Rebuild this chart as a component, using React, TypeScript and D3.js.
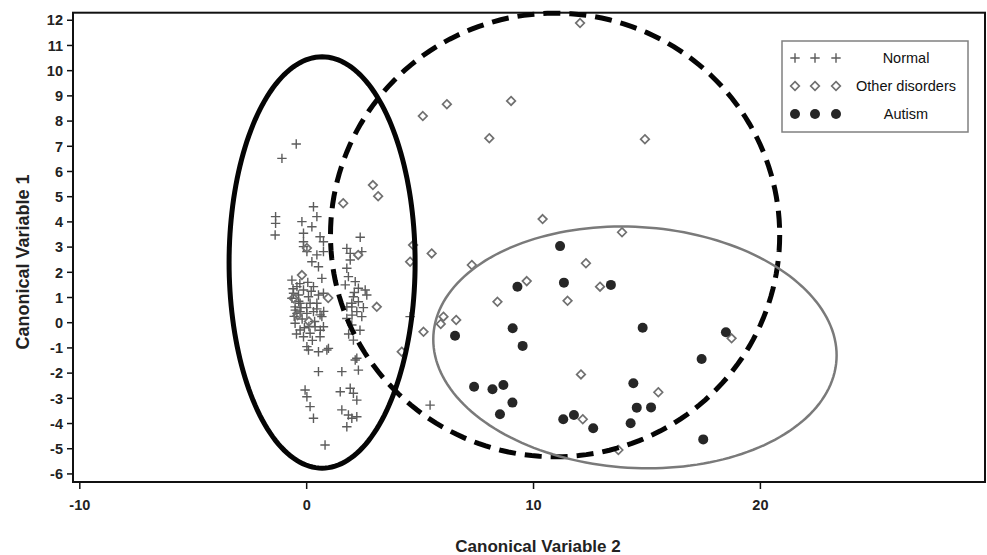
import React from "react";
import * as d3 from "d3";

// ---- data (Canonical Variable 2 = x, Canonical Variable 1 = y) ----
const xTicks = [-10, 0, 10, 20];
const yTicks = d3.range(-6, 13, 1);

const normalPoints: [number, number][] = [
  [-1.09, 6.52], [-0.46, 7.09],
  [-1.37, 4.21], [-1.37, 3.94], [-1.39, 3.48],
  [0.3, 4.6], [0.45, 4.21], [-0.21, 4.01], [0.23, 3.81], [-0.14, 3.55], [0.59, 3.41], [0.74, 3.21],
  [-0.14, 3.21], [-0.14, 3.02], [0.01, 2.82], [0.45, 2.69], [0.23, 2.42], [0.74, 2.82], [0.52, 2.22], [0.67, 1.76],
  [2.36, 3.39], [1.77, 2.95], [1.92, 2.75], [2.43, 2.82], [1.92, 2.49], [1.77, 2.16], [1.84, 1.83],
  [2.14, 1.63], [2.28, 1.37], [2.58, 1.3], [2.06, 1.03], [2.28, 0.83], [1.99, 0.63], [2.65, 1.1],
  [-0.65, 1.69], [-0.43, 1.43], [-0.58, 1.17], [-0.14, 1.3], [0.08, 1.03], [0.3, 1.43], [0.45, 0.77],
  [0.74, 1.17], [-0.51, 0.63], [-0.29, 0.44], [0.01, 0.37], [0.3, 0.44], [0.59, 0.31], [-0.36, 1.1],
  [-0.65, 0.97], [0.15, 0.77], [0.52, 1.1],
  [-0.29, 0.77], [-0.43, 0.37], [-0.51, -0.02], [-0.29, -0.29], [-0.14, -0.56], [0.15, -0.42],
  [0.37, -0.16], [0.67, 0.24], [0.74, -0.16], [0.59, -0.56], [0.01, -0.95], [0.52, -1.15],
  [0.89, -1.08], [0.08, -1.08], [0.96, -1.02],
  [-0.5, 0.5], [-0.35, 0.85], [-0.2, 0.15], [0.0, 0.6], [0.2, 1.25], [0.35, 0.05], [-0.55, 0.25],
  [-0.1, -0.2], [0.45, 0.55], [-0.3, 1.55], [0.05, 1.6], [0.6, -0.3], [-0.45, -0.45], [0.25, -0.7],
  [0.75, 0.45], [-0.6, 1.35], [0.1, -0.15], [-0.25, 0.6],
  [1.77, 0.63], [1.99, 0.77], [2.21, 0.44], [1.77, 0.17], [1.99, -0.09], [2.06, -0.69], [2.43, 0.24],
  [2.21, -1.41], [2.0, 0.3], [2.35, -0.3], [1.85, -0.45], [2.5, 0.6], [2.1, 1.2], [1.7, 1.5],
  [4.56, 0.24],
  [2.14, -1.48], [0.52, -1.94], [1.55, -1.94], [2.28, -1.88], [-0.07, -2.67], [0.01, -2.94],
  [0.15, -3.33], [0.3, -3.79], [1.48, -2.74], [1.92, -2.6], [2.06, -2.8], [2.21, -3.07],
  [1.55, -3.46], [1.84, -3.66], [1.99, -3.79], [2.21, -3.73], [1.77, -4.13], [0.81, -4.85],
  [5.44, -3.27],
];

const otherPoints: [number, number][] = [
  [12.05, 11.89], [6.18, 8.67], [5.12, 8.2], [9.01, 8.8], [8.05, 7.32], [14.91, 7.28],
  [10.4, 4.11], [13.9, 3.59], [4.69, 3.08], [4.56, 2.42], [5.51, 2.75], [1.61, 4.74],
  [2.92, 5.46], [3.15, 5.02], [0.01, 2.96], [2.27, 2.69], [-0.21, 1.89], [0.95, 0.98],
  [3.09, 0.63], [4.19, -1.15], [7.28, 2.29], [12.31, 2.36], [9.7, 1.65], [8.41, 0.83],
  [11.5, 0.87], [12.93, 1.43], [6.03, 0.24], [5.91, -0.05], [6.59, 0.11], [5.15, -0.36],
  [18.73, -0.62], [12.09, -2.05], [15.5, -2.76], [12.17, -3.83], [13.74, -5.05],
  [-0.58, 0.97], [-0.4, 0.3], [0.1, 0.05],
];

const autismPoints: [number, number][] = [
  [11.17, 3.04], [9.29, 1.43], [11.34, 1.59], [13.41, 1.5], [9.08, -0.22], [6.54, -0.52],
  [9.52, -0.92], [14.81, -0.2], [18.48, -0.38], [17.41, -1.44], [7.38, -2.54], [8.19, -2.64],
  [8.67, -2.47], [9.07, -3.17], [8.52, -3.63], [14.4, -2.4], [14.55, -3.37], [15.18, -3.36],
  [11.31, -3.83], [11.78, -3.66], [12.63, -4.19], [14.28, -3.99], [17.48, -4.63],
];

// ellipses: center x, center y, radius x, radius y (data units), rotation (deg)
const ellipseCenters: [number, number][] = [[0.68, 2.39], [10.95, 3.48], [14.47, -0.98]];
const ellipseRadii: [number, number][] = [[4.1, 8.16], [9.9, 8.8], [8.9, 4.78]];
const ellipseRotation = [0, 0, 3.5];

const legendLabels = ["Normal", "Other disorders", "Autism"];

const W = 987;
const H = 555;
const left = 73, right = 985, top = 12.7, bottom = 482;

export default function App() {
  const x = d3.scaleLinear().domain([-10.3, 29.9]).range([left, right]);
  const y = d3.scaleLinear().domain([-6.32, 12.3]).range([bottom, top]);

  const ellipsePath = (i: number) => {
    const [cx, cy] = ellipseCenters[i];
    const [rx, ry] = ellipseRadii[i];
    const pcx = x(cx), pcy = y(cy);
    const prx = x(cx + rx) - pcx;
    const pry = y(cy) - y(cy + ry);
    const th = (ellipseRotation[i] * Math.PI) / 180;
    const pts: [number, number][] = d3.range(0, 360, 2).map((deg) => {
      const t = (deg * Math.PI) / 180;
      const ex = prx * Math.cos(t);
      const ey = pry * Math.sin(t);
      return [pcx + ex * Math.cos(th) - ey * Math.sin(th), pcy + ex * Math.sin(th) + ey * Math.cos(th)];
    });
    return d3.line().curve(d3.curveLinearClosed)(pts) as string;
  };

  const plus = (px: number, py: number, k: string) => (
    <path key={k} d={`M${px - 4.7},${py}H${px + 4.7}M${px},${py - 4.7}V${py + 4.7}`} stroke="#5c5c5c" strokeWidth={1.4} fill="none" />
  );
  const diamond = (px: number, py: number, k: string) => (
    <path key={k} d={`M${px},${py - 4.3}L${px + 4.3},${py}L${px},${py + 4.3}L${px - 4.3},${py}Z`} stroke="#707070" strokeWidth={1.7} fill="none" />
  );
  const dot = (px: number, py: number, k: string) => <circle key={k} cx={px} cy={py} r={5} fill="#262626" />;

  const font = "'Liberation Sans', Arial, sans-serif";

  return (
    <div style={{ position: "absolute", left: 0, top: 0 }}>
      <svg width={W} height={H} style={{ display: "block", background: "#fff" }} fontFamily={font}>
        {/* frame */}
        <rect x={left} y={top} width={right - left} height={bottom - top} fill="none" stroke="#111" strokeWidth={2} />
        {/* y ticks */}
        {yTicks.map((t) => (
          <g key={"y" + t}>
            <line x1={left - 6} x2={left} y1={y(t)} y2={y(t)} stroke="#111" strokeWidth={1.5} />
            <text x={left - 10} y={y(t)} dy="0.36em" textAnchor="end" fontSize={14.5} fontWeight="bold" fill="#222">
              {t}
            </text>
          </g>
        ))}
        {/* x ticks */}
        {xTicks.map((t) => (
          <g key={"x" + t}>
            <line x1={x(t)} x2={x(t)} y1={bottom} y2={bottom + 7} stroke="#111" strokeWidth={1.5} />
            <text x={x(t)} y={bottom + 28} textAnchor="middle" fontSize={14.5} fontWeight="bold" fill="#222">
              {t}
            </text>
          </g>
        ))}
        {/* axis titles */}
        <text x={538} y={552} textAnchor="middle" fontSize={17} fontWeight="bold" fill="#222">
          Canonical Variable 2
        </text>
        <text transform="translate(29,262) rotate(-90)" textAnchor="middle" fontSize={18} fontWeight="bold" fill="#222">
          Canonical Variable 1
        </text>

        {/* points */}
        <g>{normalPoints.map((p, i) => plus(x(p[0]), y(p[1]), "n" + i))}</g>
        <g>{otherPoints.map((p, i) => diamond(x(p[0]), y(p[1]), "o" + i))}</g>
        <g>{autismPoints.map((p, i) => dot(x(p[0]), y(p[1]), "a" + i))}</g>

        {/* ellipses */}
        <path d={ellipsePath(0)} fill="none" stroke="#050505" strokeWidth={5} />
        <path d={ellipsePath(1)} fill="none" stroke="#050505" strokeWidth={5} strokeDasharray="17 9" />
        <path d={ellipsePath(2)} fill="none" stroke="#7a7a7a" strokeWidth={2.5} />

        {/* legend */}
        <rect x={782} y={41} width={186} height={91} fill="#fff" stroke="#808080" strokeWidth={1.5} />
        {legendLabels.map((lab, i) => {
          const ly = 58 + i * 28;
          const xs = [795, 815, 836];
          return (
            <g key={lab}>
              {xs.map((lx, j) =>
                i === 0 ? plus(lx, ly, "lp" + j) : i === 1 ? diamond(lx, ly, "ld" + j) : dot(lx, ly, "lc" + j)
              )}
              <text x={906} y={ly} dy="0.36em" textAnchor="middle" fontSize={14.5} fill="#111">
                {lab}
              </text>
            </g>
          );
        })}
      </svg>
    </div>
  );
}
